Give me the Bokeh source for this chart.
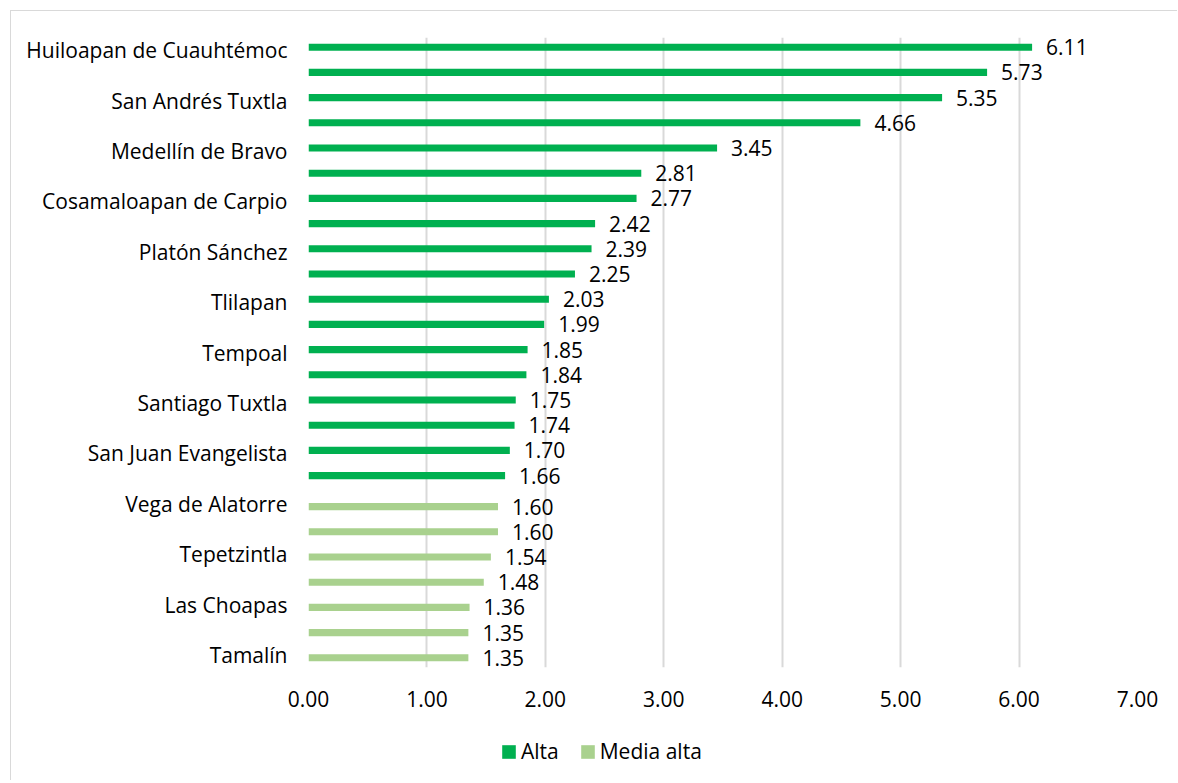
from bokeh.plotting import figure
from bokeh.layouts import column
from bokeh.models import (ColumnDataSource, Range1d, FixedTicker, LabelSet, Legend,
                          LegendItem, NumeralTickFormatter)
from bokeh.transform import dodge
from bokeh.core.properties import value
from bokeh.embed import file_html
from bokeh.resources import INLINE

# ---- data ----
alta_names = ["Huiloapan de Cuauhtémoc", "", "San Andrés Tuxtla", "", "Medellín de Bravo", "",
              "Cosamaloapan de Carpio", "", "Platón Sánchez", "", "Tlilapan", "", "Tempoal", "",
              "Santiago Tuxtla", "", "San Juan Evangelista", ""]
alta_values = [6.11, 5.73, 5.35, 4.66, 3.45, 2.81, 2.77, 2.42, 2.39, 2.25, 2.03, 1.99,
               1.85, 1.84, 1.75, 1.74, 1.70, 1.66]
media_names = ["Vega de Alatorre", "", "Tepetzintla", "", "Las Choapas", "", "Tamalín"]
media_values = [1.60, 1.60, 1.54, 1.48, 1.36, 1.35, 1.35]
series_labels = ["Alta", "Media alta"]
x_ticks = [0, 1, 2, 3, 4, 5, 6, 7]

ALTA_COLOR = "#00B050"
MEDIA_COLOR = "#A9D18E"
FONT = "Open Sans"
FS = "21px"
BORDER = "1px solid #d9d9d9"

n_alta = len(alta_values)
names = alta_names + media_names
pos_alta = list(range(n_alta))
pos_media = list(range(n_alta, n_alta + len(media_values)))
n = len(names)

src_alta = ColumnDataSource(dict(y=pos_alta, v=alta_values,
                                 t=["%.2f" % v for v in alta_values]))
src_media = ColumnDataSource(dict(y=pos_media, v=media_values,
                                  t=["%.2f" % v for v in media_values]))

p = figure(width=1167, height=726, output_backend="svg", toolbar_location=None,
           x_range=Range1d(0, 7), y_range=Range1d(n - 0.5, -0.5),
           min_border_left=297, min_border_right=41, min_border_top=26,
           min_border_bottom=70)
p.styles = {"margin-left": "10px", "margin-top": "10px",
            "border-left": BORDER, "border-top": BORDER}
p.outline_line_color = None
p.background_fill_color = "white"
p.border_fill_color = "white"

bar_h = 0.28
p.hbar(y=dodge("y", -0.115), right="v", left=0, height=bar_h,
       source=src_alta, fill_color=ALTA_COLOR, line_color=None)
p.hbar(y=dodge("y", 0.115), right="v", left=0, height=bar_h,
       source=src_media, fill_color=MEDIA_COLOR, line_color=None)

for src, d in ((src_alta, -0.115), (src_media, 0.115)):
    lbl = LabelSet(x="v", y=dodge("y", d), text="t", source=src, x_offset=14,
                   text_align="left", text_baseline="middle",
                   text_font=value(FONT), text_font_size=FS, text_color="#000000")
    p.add_layout(lbl)

# axes
p.xaxis.ticker = FixedTicker(ticks=x_ticks)
p.xaxis.formatter = NumeralTickFormatter(format="0.00")
p.xaxis.axis_line_color = None
p.xaxis.major_tick_line_color = None
p.xaxis.minor_tick_line_color = None
p.xaxis.major_tick_out = 0
p.xaxis.major_label_standoff = 23
p.xaxis.major_label_text_font = FONT
p.xaxis.major_label_text_font_size = FS
p.xaxis.major_label_text_color = "#000000"

label_pos = [i for i, nm in enumerate(names) if nm]
p.yaxis.ticker = FixedTicker(ticks=label_pos)
p.yaxis.major_label_overrides = {i: names[i] for i in label_pos}
p.yaxis.axis_line_color = None
p.yaxis.major_tick_line_color = None
p.yaxis.minor_tick_line_color = None
p.yaxis.major_tick_out = 0
p.yaxis.major_label_standoff = 21
p.yaxis.major_label_text_font = FONT
p.yaxis.major_label_text_font_size = FS
p.yaxis.major_label_text_color = "#000000"

p.xgrid.ticker = FixedTicker(ticks=x_ticks)
p.xgrid.grid_line_color = "#d9d9d9"
p.xgrid.grid_line_width = 2
p.ygrid.grid_line_color = None

# ---- legend strip (same width as the chart, directly below it) ----
lf = figure(width=1167, height=44, output_backend="svg", toolbar_location=None,
            x_range=Range1d(0, 1), y_range=Range1d(0, 1),
            x_axis_type=None, y_axis_type=None,
            min_border=0, min_border_left=0, min_border_right=0,
            min_border_top=0, min_border_bottom=0)
lf.styles = {"margin-left": "10px", "border-left": BORDER}
lf.outline_line_color = None
lf.grid.visible = False
lf.background_fill_color = "white"
lf.border_fill_color = "white"
# one sample row per series, kept outside the visible range (only used for the legend key)
ra = lf.hbar(y=[-5], right=[1], left=0, height=0.5,
             fill_color=ALTA_COLOR, line_color=None)
rm = lf.hbar(y=[-5], right=[1], left=0, height=0.5,
             fill_color=MEDIA_COLOR, line_color=None)
legend = Legend(items=[LegendItem(label=series_labels[0], renderers=[ra]),
                       LegendItem(label=series_labels[1], renderers=[rm])],
                orientation="horizontal", location=(192, 15),
                glyph_width=17, glyph_height=17, label_standoff=4, spacing=20,
                padding=0, margin=0, border_line_color=None, background_fill_alpha=0,
                label_text_font=FONT, label_text_font_size=FS,
                label_text_color="#000000")
lf.add_layout(legend, "center")

open("out.html", "w").write(file_html(column(p, lf), INLINE))
